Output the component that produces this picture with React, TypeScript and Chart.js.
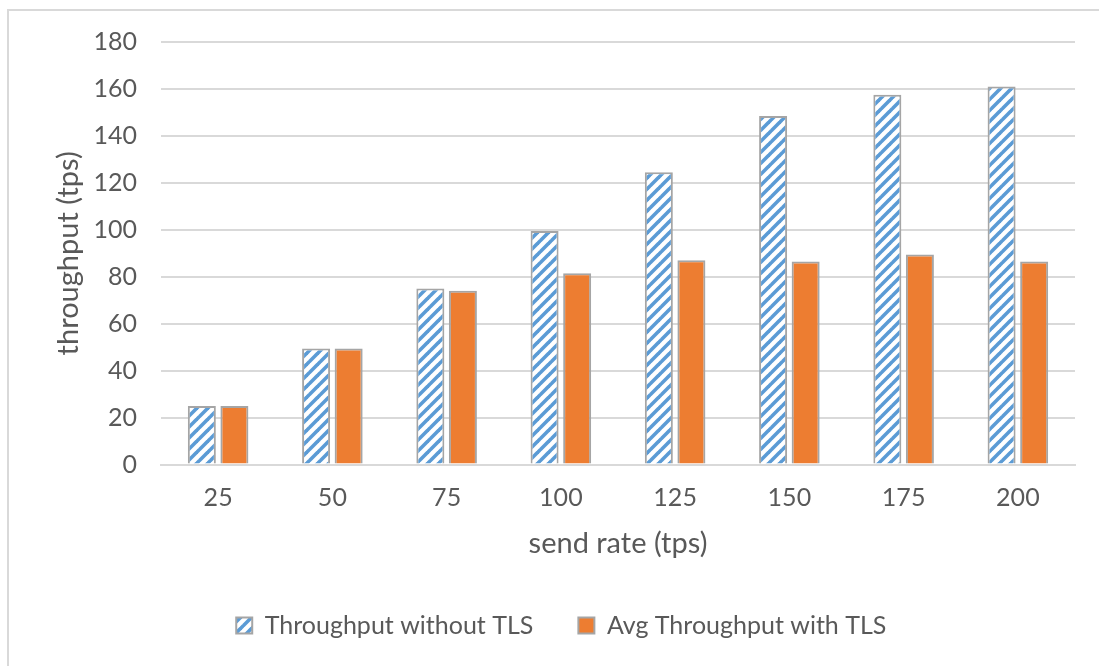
import React, { useEffect, useRef } from "react";
import { Chart, registerables } from "chart.js";

Chart.register(...registerables);

const categories = ["25", "50", "75", "100", "125", "150", "175", "200"];
const withoutTLS = [25, 49.5, 75, 99.5, 124.5, 148.5, 157.5, 161];
const withTLS = [25, 49.5, 74, 81.5, 87, 86.5, 89.5, 86.5];
const seriesNames = ["Throughput without TLS", "Avg Throughput with TLS"];
const yTitle = "throughput (tps)";
const xTitle = "send rate (tps)";

const FONT = "Lato, 'DejaVu Sans', sans-serif";
const TEXT = "#595959";
const GRID = "#d9d9d9";

function makeStripe(): CanvasPattern | string {
  const c = document.createElement("canvas");
  const s = 11;
  c.width = s;
  c.height = s;
  const ctx = c.getContext("2d");
  if (!ctx) return "#5B9BD5";
  ctx.fillStyle = "#ffffff";
  ctx.fillRect(0, 0, s, s);
  ctx.strokeStyle = "#5B9BD5";
  ctx.lineWidth = 3.6;
  for (let k = -1; k <= 1; k++) {
    ctx.beginPath();
    ctx.moveTo(k * s - 1, s + 1);
    ctx.lineTo(k * s + s + 1, -1);
    ctx.stroke();
  }
  const p = ctx.createPattern(c, "repeat");
  return p || "#5B9BD5";
}

export default function App() {
  const ref = useRef<HTMLCanvasElement>(null);
  useEffect(() => {
    document.body.style.margin = "0";
    const stripe = makeStripe();
    const chart = new Chart(ref.current as HTMLCanvasElement, {
      type: "bar",
      data: {
        labels: categories,
        datasets: [
          {
            label: seriesNames[0],
            data: withoutTLS,
            backgroundColor: stripe as any,
            borderColor: "#a5a5a5",
            borderWidth: 2,
            categoryPercentage: 0.57,
            barPercentage: 0.86,
          },
          {
            label: seriesNames[1],
            data: withTLS,
            backgroundColor: "#ED7D31",
            borderColor: "#a5a5a5",
            borderWidth: 2,
            categoryPercentage: 0.57,
            barPercentage: 0.86,
          },
        ],
      },
      options: {
        animation: false,
        responsive: false,
        maintainAspectRatio: false,
        layout: { padding: { top: 42, right: 24, left: 47.6, bottom: 18 } },
        plugins: {
          tooltip: { enabled: false },
          legend: {
            position: "bottom",
            labels: {
              font: { family: FONT, size: 25 },
              color: TEXT,
              boxWidth: 16,
              boxHeight: 16,
              padding: 45,
            },
          },
        },
        scales: {
          x: {
            grid: { display: false, drawTicks: false },
            border: { color: GRID, width: 2 },
            ticks: { font: { family: FONT, size: 25 }, color: TEXT, padding: 18 },
            title: {
              display: true,
              text: xTitle,
              font: { family: FONT, size: 29 },
              color: TEXT,
              padding: { top: 15, bottom: 7 },
            },
            afterFit: (scale: any) => {
              scale.height = 103.4;
            },
          },
          y: {
            min: 0,
            max: 180,
            ticks: { stepSize: 20, font: { family: FONT, size: 25 }, color: TEXT, padding: 24 },
            grid: { color: GRID, lineWidth: 2, drawTicks: false },
            border: { display: false },
            title: {
              display: true,
              text: yTitle,
              font: { family: FONT, size: 29 },
              color: TEXT,
              padding: { top: 4, bottom: 12 },
            },
            afterFit: (scale: any) => {
              scale.width = 113.4;
            },
          },
        },
      },
    });
    return () => chart.destroy();
  }, []);
  return (
    <div style={{ position: "relative", width: 1099, height: 666, background: "#fff" }}>
      <div
        style={{
          position: "absolute",
          left: 7,
          top: 9,
          right: 0,
          bottom: 0,
          borderLeft: "2px solid #d9d9d9",
          borderTop: "2px solid #d9d9d9",
        }}
      />
      <canvas ref={ref} width={1099} height={666} style={{ position: "absolute", left: 0, top: 0 }} />
    </div>
  );
}
